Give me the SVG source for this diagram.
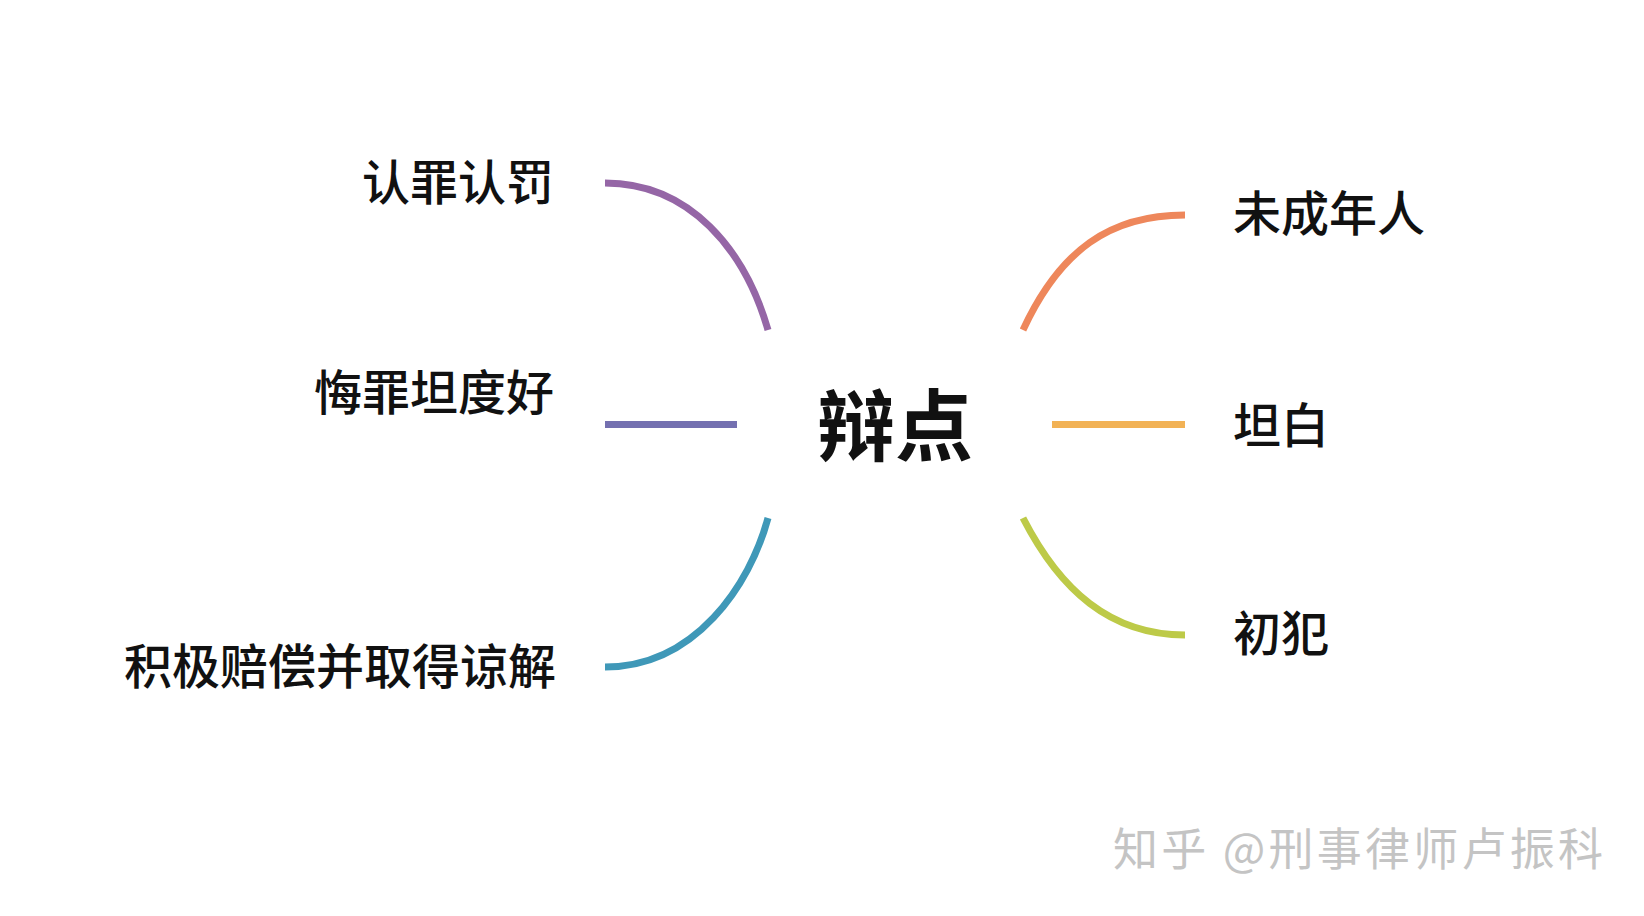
<svg xmlns="http://www.w3.org/2000/svg" width="1644" height="916" viewBox="0 0 1644 916">
<style>
.lbl{font-family:"Noto Sans CJK SC","Noto Sans CJK JP",sans-serif;font-weight:500;font-size:48px;fill:#111}
.ctr{font-family:"Noto Sans CJK SC","Noto Sans CJK JP",sans-serif;font-weight:bold;font-size:78px;fill:#111}
.wm{font-family:"Noto Sans CJK SC","Noto Sans CJK JP",sans-serif;font-size:45px;fill:#c4c4c4}
.c{fill:none;stroke-width:7;stroke-linecap:butt}
</style>
<rect width="1644" height="916" fill="#fff"/>
<g id="connectors">
<path class="c" stroke="#9566a6" d="M605,183 C690,183 745,250 768,330"/>
<path class="c" stroke="#7470b0" d="M605,424.5 H737"/>
<path class="c" stroke="#3f98b8" d="M768,518 C750,585 695,667 605,667"/>
<path class="c" stroke="#ee875b" d="M1023,330 C1060,250 1110,215 1185,215"/>
<path class="c" stroke="#f2b255" d="M1052,424.5 H1185"/>
<path class="c" stroke="#bdca48" d="M1023,518 C1060,590 1110,635 1185,635"/>
</g>
<g id="center"><text class="ctr" x="895" y="455" text-anchor="middle">辩点</text></g>
<g id="n1"><text class="lbl" x="554" y="200" text-anchor="end">认罪认罚</text></g>
<g id="n2"><text class="lbl" x="554" y="410" text-anchor="end">悔罪坦度好</text></g>
<g id="n3"><text class="lbl" x="556" y="684" text-anchor="end">积极赔偿并取得谅解</text></g>
<g id="n4"><text class="lbl" x="1233" y="231">未成年人</text></g>
<g id="n5"><text class="lbl" x="1233" y="443">坦白</text></g>
<g id="n6"><text class="lbl" x="1233" y="651">初犯</text></g>
<g id="watermark"><text class="wm" x="1113" y="866" textLength="490" lengthAdjust="spacing">知乎 @刑事律师卢振科</text></g>
</svg>
